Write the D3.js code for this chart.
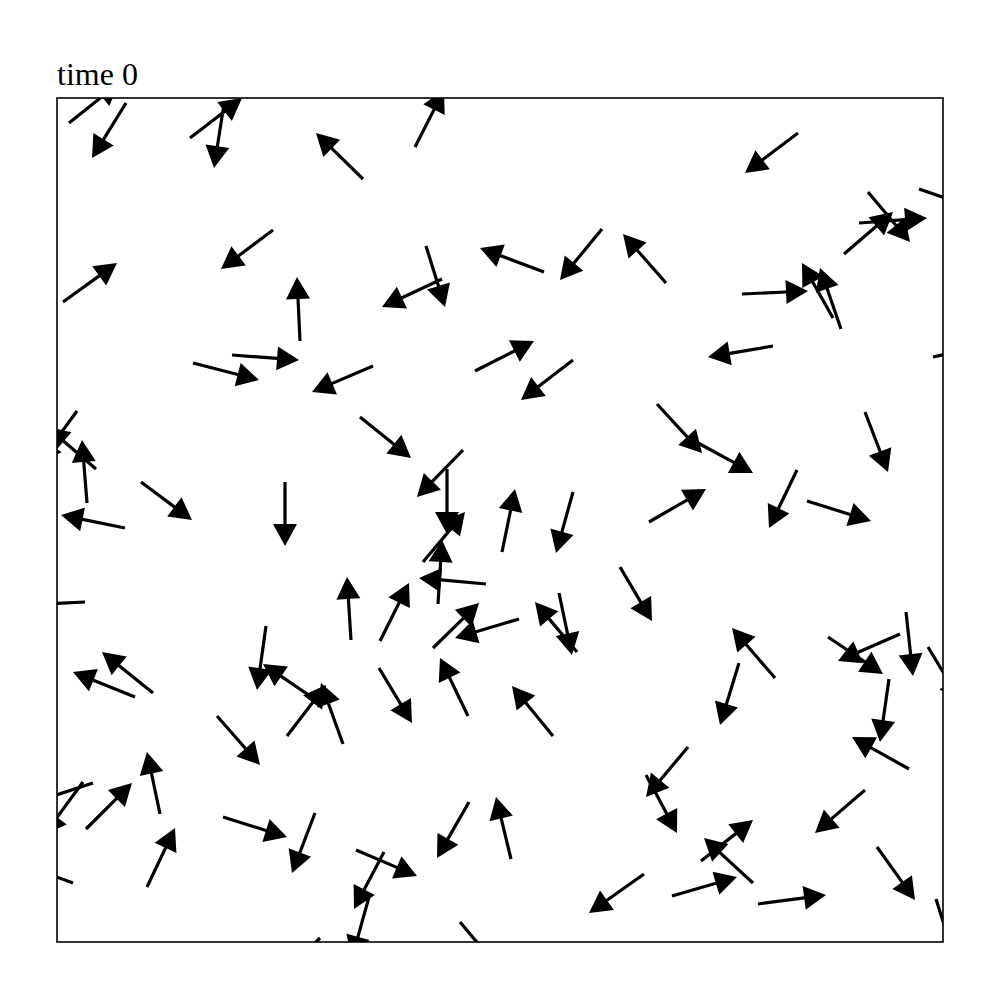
<!DOCTYPE html>
<html>
<head>
<meta charset="utf-8">
<script src="https://cdn.jsdelivr.net/npm/d3@7"></script>
<style>
  html, body { margin: 0; padding: 0; background: #fff; }
  svg { display: block; }
</style>
</head>
<body>
<div id="chart"></div>
<script>
// Title
const title = "time 0";

// Arrow tails (data units) and velocity components (data units)
const xs = [12,69,133,167,306,216,6,243,358,369,385,487,545,609,741,862,811,787,802,685,
            776,784,175,136,316,20,39,30,84,228,68,418,516,303,406,390,445,516,716,876,
            600,641,808,740,750,592,28,294,209,259,230,286,96,78,160,366,381,429,323,376,
            462,520,502,563,322,411,496,718,682,843,771,849,871,832,103,29,36,26,16,90,
            166,258,412,454,299,327,312,587,403,263,852,631,589,808,644,696,615,701,820,879];
const ys = [819,839,804,838,763,712,640,601,795,696,663,670,713,659,809,753,750,688,719,648,
            624,613,587,579,576,531,473,439,460,460,414,571,582,525,492,473,390,450,596,585,
            538,499,530,472,441,420,340,302,316,242,206,198,249,245,226,380,338,358,301,294,
            323,290,349,375,274,226,206,264,279,308,305,330,295,263,128,113,159,160,59,55,
            125,129,140,83,92,90,45,68,20,4,173,195,167,152,81,59,46,38,95,43];
const us = [50,-34,52,-10,-47,-52,54,-3,29,19,-60,-64,-42,-43,-53,61,42,49,68,66,
            -31,-21,67,66,-61,-38,-49,-5,51,0,-64,59,-52,51,-46,0,13,-17,-65,62,
            45,55,23,-28,64,57,-64,-4,-9,-53,39,-22,-51,-62,43,42,4,-67,29,46,
            -64,-42,13,32,33,-28,-41,-43,-19,-62,55,7,33,-9,-13,46,-61,-39,-60,28,
            64,-23,-32,-15,61,-30,-17,-55,41,-45,-57,-42,31,-50,52,-49,65,68,38,19];
const vs = [40,-55,40,-64,46,-39,39,64,57,-61,-28,24,-51,49,-40,-21,-50,42,5,3,
            55,61,-5,-17,-26,-52,42,63,-38,-64,13,30,-40,-41,-47,-65,63,-61,-11,14,
            -49,-30,-60,-58,-20,33,-3,63,-64,36,51,61,41,25,-49,50,64,6,58,45,
            -19,50,-62,-54,-55,58,50,50,-62,-27,-37,-64,-55,-63,62,46,-20,-53,22,59,
            -20,-60,-56,62,-26,-57,-61,-39,-49,-45,32,-50,-58,-43,41,45,19,9,-53,-61];

const xDomain = [0, 886];
const yDomain = [0, 844];

const W = 1000, H = 1000;
const margin = { left: 57, right: 57, top: 98, bottom: 58 };

const svg = d3.select("#chart").append("svg")
  .attr("width", W).attr("height", H);

const x = d3.scaleLinear().domain(xDomain).range([margin.left, W - margin.right]);
const y = d3.scaleLinear().domain(yDomain).range([H - margin.bottom, margin.top]);

svg.append("defs").append("clipPath").attr("id", "plotclip")
  .append("rect")
  .attr("x", x(xDomain[0])).attr("y", y(yDomain[1]))
  .attr("width", x(xDomain[1]) - x(xDomain[0]))
  .attr("height", y(yDomain[0]) - y(yDomain[1]));

const data = xs.map((d, i) => ({ x: d, y: ys[i], u: us[i], v: vs[i] }));

const shaftHalf = 1.6, headLen = 22, headHalf = 12;

function arrowPath(d) {
  const x0 = x(d.x), y0 = y(d.y);
  const x1 = x(d.x + d.u), y1 = y(d.y + d.v);
  const L = Math.hypot(x1 - x0, y1 - y0);
  const dx = (x1 - x0) / L, dy = (y1 - y0) / L;
  const nx = -dy, ny = dx;
  const bx = x1 - dx * headLen, by = y1 - dy * headLen;
  const pts = [
    [x0 + nx * shaftHalf, y0 + ny * shaftHalf],
    [bx + nx * shaftHalf, by + ny * shaftHalf],
    [bx + nx * headHalf, by + ny * headHalf],
    [x1, y1],
    [bx - nx * headHalf, by - ny * headHalf],
    [bx - nx * shaftHalf, by - ny * shaftHalf],
    [x0 - nx * shaftHalf, y0 - ny * shaftHalf]
  ];
  return d3.line()(pts) + "Z";
}

svg.append("g").attr("clip-path", "url(#plotclip)")
  .selectAll("path").data(data).join("path")
  .attr("d", arrowPath)
  .attr("fill", "#000")
  .attr("stroke", "none");

// frame
svg.append("rect")
  .attr("x", x(xDomain[0])).attr("y", y(yDomain[1]))
  .attr("width", x(xDomain[1]) - x(xDomain[0]))
  .attr("height", y(yDomain[0]) - y(yDomain[1]))
  .attr("fill", "none").attr("stroke", "#000").attr("stroke-width", 1.6);

svg.append("text")
  .attr("x", x(xDomain[0])).attr("y", y(yDomain[1]) - 13)
  .attr("font-family", "'Liberation Serif', 'DejaVu Serif', serif")
  .attr("font-size", 32)
  .attr("fill", "#000")
  .text(title);
</script>
</body>
</html>
